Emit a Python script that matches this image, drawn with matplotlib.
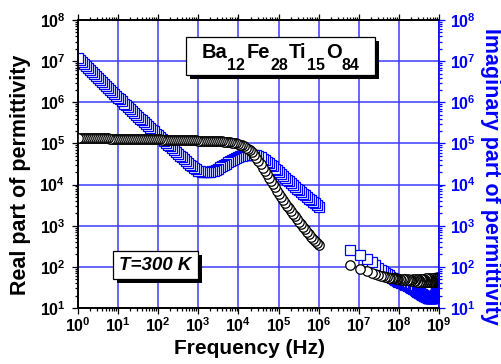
import numpy as np
import matplotlib
matplotlib.use("Agg")
import matplotlib.pyplot as plt
from matplotlib.ticker import LogLocator, FuncFormatter, NullFormatter
from matplotlib.patches import Rectangle
from matplotlib.text import Annotation

plt.rcParams.update({
    "font.family": ["Liberation Sans", "DejaVu Sans"],
    "font.weight": "bold",
    "mathtext.fontset": "custom",
    "mathtext.rm": "Liberation Sans:bold",
    "mathtext.bf": "Liberation Sans:bold",
    "mathtext.it": "Liberation Sans:italic:bold",
    "mathtext.default": "rm",
})

# Impedance-analyser sweep, 1 Hz - 1 MHz (log10 of frequency in Hz)
log_f_low = [0.00, 0.05, 0.10, 0.15, 0.20, 0.25, 0.30, 0.35, 0.40, 0.45,
             0.50, 0.55, 0.60, 0.65, 0.70, 0.75, 0.80, 0.85, 0.90, 0.95,
             1.00, 1.05, 1.10, 1.15, 1.20, 1.25, 1.30, 1.35, 1.40, 1.45,
             1.50, 1.55, 1.60, 1.65, 1.70, 1.75, 1.80, 1.85, 1.90, 1.95,
             2.00, 2.05, 2.10, 2.15, 2.20, 2.25, 2.30, 2.35, 2.40, 2.45,
             2.50, 2.55, 2.60, 2.65, 2.70, 2.75, 2.80, 2.85, 2.90, 2.95,
             3.00, 3.05, 3.10, 3.15, 3.20, 3.25, 3.30, 3.35, 3.40, 3.45,
             3.50, 3.55, 3.60, 3.65, 3.70, 3.75, 3.80, 3.85, 3.90, 3.95,
             4.00, 4.05, 4.10, 4.15, 4.20, 4.25, 4.30, 4.35, 4.40, 4.45,
             4.50, 4.55, 4.60, 4.65, 4.70, 4.75, 4.80, 4.85, 4.90, 4.95,
             5.00, 5.05, 5.10, 5.15, 5.20, 5.25, 5.30, 5.35, 5.40, 5.45,
             5.50, 5.55, 5.60, 5.65, 5.70, 5.75, 5.80, 5.85, 5.90, 5.95,
             6.00]
# log10 of the real part of permittivity
log_real_low = [5.13, 5.13, 5.13, 5.13, 5.13, 5.13, 5.12, 5.12, 5.12, 5.12,
                5.12, 5.12, 5.12, 5.12, 5.12, 5.12, 5.11, 5.11, 5.11, 5.11,
                5.11, 5.11, 5.11, 5.11, 5.11, 5.11, 5.11, 5.11, 5.10, 5.10,
                5.10, 5.10, 5.10, 5.10, 5.10, 5.10, 5.10, 5.10, 5.10, 5.10,
                5.10, 5.10, 5.09, 5.09, 5.09, 5.09, 5.09, 5.09, 5.09, 5.09,
                5.09, 5.08, 5.08, 5.08, 5.08, 5.08, 5.08, 5.08, 5.08, 5.08,
                5.07, 5.07, 5.07, 5.07, 5.07, 5.07, 5.06, 5.06, 5.06, 5.06,
                5.05, 5.05, 5.05, 5.04, 5.04, 5.03, 5.03, 5.02, 5.01, 5.00,
                4.99, 4.97, 4.95, 4.93, 4.90, 4.87, 4.83, 4.78, 4.72, 4.65,
                4.57, 4.49, 4.41, 4.33, 4.25, 4.17, 4.09, 4.01, 3.93, 3.85,
                3.78, 3.70, 3.63, 3.56, 3.49, 3.42, 3.36, 3.29, 3.23, 3.16,
                3.10, 3.03, 2.97, 2.91, 2.85, 2.79, 2.73, 2.67, 2.62, 2.57,
                2.53]
# log10 of the imaginary part of permittivity
log_imag_low = [7.08, 7.03, 6.98, 6.93, 6.88, 6.84, 6.79, 6.74, 6.69, 6.64,
                6.59, 6.55, 6.50, 6.45, 6.40, 6.35, 6.30, 6.26, 6.21, 6.16,
                6.11, 6.07, 6.02, 5.97, 5.93, 5.88, 5.83, 5.79, 5.74, 5.70,
                5.65, 5.60, 5.56, 5.51, 5.47, 5.42, 5.38, 5.33, 5.29, 5.24,
                5.20, 5.15, 5.11, 5.06, 5.02, 4.97, 4.93, 4.88, 4.84, 4.79,
                4.75, 4.70, 4.66, 4.61, 4.57, 4.52, 4.48, 4.44, 4.40, 4.37,
                4.34, 4.32, 4.31, 4.30, 4.30, 4.30, 4.31, 4.32, 4.34, 4.36,
                4.39, 4.42, 4.45, 4.48, 4.51, 4.54, 4.57, 4.60, 4.62, 4.65,
                4.67, 4.69, 4.70, 4.71, 4.72, 4.73, 4.73, 4.73, 4.72, 4.71,
                4.69, 4.66, 4.63, 4.60, 4.56, 4.52, 4.48, 4.44, 4.39, 4.35,
                4.30, 4.26, 4.21, 4.17, 4.12, 4.08, 4.03, 3.99, 3.94, 3.90,
                3.86, 3.82, 3.78, 3.74, 3.70, 3.66, 3.62, 3.58, 3.54, 3.50,
                3.46]

# RF sweep, frequency in MHz
f_high_mhz = [6, 11, 16, 21, 26, 31, 36, 41, 46, 51, 56, 61, 66, 71, 76,
              81, 86, 91, 96,
              106, 116, 126, 136, 146, 156, 166, 176, 186, 196,
              206, 216, 226, 236, 246, 256, 266, 276, 286, 296,
              306, 316, 326, 336, 346, 356, 366, 376, 386, 396,
              406, 416, 426, 436, 446, 456, 466, 476, 486, 496,
              506, 516, 526, 536, 546, 556, 566, 576, 586, 596,
              606, 616, 626, 636, 646, 656, 666, 676, 686, 696,
              706, 716, 726, 736, 746, 756, 766, 776, 786, 796,
              806, 816, 826, 836, 846, 856, 866, 876, 886, 896,
              906, 916, 926, 936, 946, 956, 966, 976, 986, 996]
log_real_high = [2.05, 1.96, 1.90, 1.85, 1.82, 1.80, 1.78, 1.77, 1.76, 1.75,
                 1.74, 1.74, 1.73, 1.73, 1.72, 1.72, 1.71, 1.71, 1.70,
                 1.70, 1.69, 1.71, 1.68, 1.70, 1.67, 1.70, 1.68, 1.69, 1.66,
                 1.69, 1.67, 1.70, 1.65, 1.68, 1.66, 1.70, 1.64, 1.68, 1.67,
                 1.70, 1.64, 1.69, 1.66, 1.71, 1.63, 1.68, 1.66, 1.70, 1.64,
                 1.69, 1.65, 1.71, 1.63, 1.68, 1.66, 1.72, 1.64, 1.69, 1.65,
                 1.71, 1.63, 1.68, 1.66, 1.72, 1.64, 1.70, 1.65, 1.69, 1.63,
                 1.71, 1.65, 1.68, 1.64, 1.72, 1.66, 1.70, 1.63, 1.69, 1.66,
                 1.72, 1.64, 1.70, 1.65, 1.73, 1.66, 1.69, 1.64, 1.72, 1.67,
                 1.70, 1.65, 1.73, 1.66, 1.71, 1.64, 1.74, 1.67, 1.70, 1.66,
                 1.74, 1.67, 1.72, 1.66, 1.75, 1.68, 1.71, 1.67, 1.74, 1.70]
log_imag_high = [2.41, 2.29, 2.19, 2.11, 2.04, 1.98, 1.93, 1.89, 1.85, 1.82,
                 1.79, 1.76, 1.74, 1.72, 1.70, 1.68, 1.67, 1.65, 1.64,
                 1.63, 1.61, 1.60, 1.58, 1.57, 1.55, 1.54, 1.53, 1.51, 1.50,
                 1.49, 1.48, 1.46, 1.45, 1.44, 1.43, 1.42, 1.41, 1.40, 1.39,
                 1.38, 1.37, 1.36, 1.36, 1.35, 1.34, 1.33, 1.33, 1.32, 1.31,
                 1.31, 1.30, 1.30, 1.29, 1.29, 1.28, 1.28, 1.27, 1.27, 1.27,
                 1.26, 1.26, 1.26, 1.25, 1.25, 1.25, 1.25, 1.24, 1.24, 1.24,
                 1.24, 1.24, 1.24, 1.24, 1.24, 1.24, 1.24, 1.24, 1.24, 1.25,
                 1.25, 1.25, 1.25, 1.26, 1.26, 1.26, 1.27, 1.27, 1.28, 1.29,
                 1.30, 1.31, 1.33, 1.35, 1.37, 1.40, 1.43, 1.46, 1.50, 1.54,
                 1.57, 1.60, 1.63, 1.65, 1.67, 1.69, 1.71, 1.72, 1.73, 1.74]

x_tick_exps = list(range(0, 10))
y_tick_exps = list(range(1, 9))

formula_parts = [("Ba", "12"), ("Fe", "28"), ("Ti", "15"), ("O", "84")]
temperature_label = "T=300 K"

BLUE = "#0000ff"
GRID = "#3c3cff"

W, H = 502, 364
fig = plt.figure(figsize=(W / 100, H / 100), dpi=100)


def fx(px):
    return px / W


def fy(py):
    return 1 - py / H


x0, x1, y0, y1 = 78, 439, 20, 308
ax = fig.add_axes([fx(x0), fy(y1), (x1 - x0) / W, (y1 - y0) / H])
ax2 = ax.twinx()

# both sweeps combined, drawn from high frequency down to low frequency
f_low = 10.0 ** np.array(log_f_low)
f_high = np.array(f_high_mhz) * 1e6
freq = np.concatenate([f_low, f_high])[::-1]
real = (10.0 ** np.concatenate([log_real_low, log_real_high]))[::-1]
imag = (10.0 ** np.concatenate([log_imag_low, log_imag_high]))[::-1]

ax.plot(freq, imag, ls="none", marker="s", ms=7.2, mfc="white", mec=BLUE,
        mew=0.9)
ax2.plot(freq, real, ls="none", marker="o", ms=6.8, mfc="white", mec="black",
         mew=0.9)

fmt = FuncFormatter(lambda v, p: r"$10^{%d}$" % int(round(np.log10(v))))
for a in (ax, ax2):
    a.set_xscale("log")
    a.set_yscale("log")
    a.set_xlim(10.0 ** x_tick_exps[0], 10.0 ** x_tick_exps[-1])
    a.set_ylim(10.0 ** y_tick_exps[0], 10.0 ** y_tick_exps[-1])
    a.yaxis.set_major_locator(LogLocator(base=10, numticks=20))
    a.yaxis.set_minor_locator(LogLocator(base=10, subs=np.arange(2, 10), numticks=100))
    a.yaxis.set_major_formatter(fmt)
    a.yaxis.set_minor_formatter(NullFormatter())

ax.xaxis.set_major_locator(LogLocator(base=10, numticks=20))
ax.xaxis.set_minor_locator(LogLocator(base=10, subs=np.arange(2, 10), numticks=100))
ax.xaxis.set_major_formatter(fmt)
ax.xaxis.set_minor_formatter(NullFormatter())

ax.set_axisbelow(True)
ax.grid(which="major", color=GRID, lw=1.1)

ax.tick_params(which="both", direction="out", top=True, right=False,
               labelsize=11.5, width=0.9, colors="black")
ax.tick_params(axis="y", pad=5)
ax.tick_params(axis="x", pad=2)
ax.tick_params(which="major", length=4)
ax.tick_params(which="minor", length=2.2)
ax2.tick_params(which="both", direction="out", right=True, left=False,
                top=False, bottom=False, labelbottom=False,
                labelsize=11.5, width=0.9, colors=BLUE, pad=4)
ax2.tick_params(which="major", length=4)
ax2.tick_params(which="minor", length=2.2)

for s in ("left", "bottom", "top"):
    ax.spines[s].set_linewidth(1.2)
    ax2.spines[s].set_linewidth(1.2)
ax2.spines["right"].set_color(BLUE)
ax2.spines["right"].set_linewidth(1.2)
ax.spines["right"].set_visible(False)

# axis titles
fig.text(fx(250), fy(348), "Frequency (Hz)", ha="center", va="center",
         fontsize=15, fontweight="bold")
fig.text(fx(21), fy(175), "Real part of permittivity", ha="center",
         va="center", rotation=90, fontsize=15.5, fontweight="bold")
fig.text(fx(491), fy(176), "Imaginary part of permittivity", ha="center",
         va="center", rotation=270, fontsize=15.5, fontweight="bold",
         color=BLUE)


def shadow_box(left, top, right, bottom, off=4):
    fig.add_artist(Rectangle((fx(left + off), fy(bottom + off)),
                             (right - left) / W, (bottom - top) / H,
                             transform=fig.transFigure, facecolor="black",
                             edgecolor="black", lw=0, zorder=5))
    fig.add_artist(Rectangle((fx(left), fy(bottom)),
                             (right - left) / W, (bottom - top) / H,
                             transform=fig.transFigure, facecolor="white",
                             edgecolor="black", lw=0.9, zorder=6))


# chemical formula built piece by piece so subscripts can be sized freely
shadow_box(186, 37, 375, 75)
MAIN_FS, SUB_FS = 14.5, 11.5
first = fig.text(fx(193), fy(58.5), formula_parts[0][0], ha="left",
                 va="baseline", fontsize=MAIN_FS, fontweight="bold", zorder=7)
prev = first
pieces = [first]
for i, (elem, sub) in enumerate(formula_parts):
    if i > 0:
        t = Annotation(elem, xy=(1, 0), xycoords=(prev, first),
                       xytext=(0.6, 0), textcoords="offset points",
                       ha="left", va="bottom", fontsize=MAIN_FS,
                       fontweight="bold", zorder=7, annotation_clip=False)
        fig.add_artist(t)
        prev = t
        pieces.append(t)
    s = Annotation(sub, xy=(1, 0), xycoords=(prev, first),
                   xytext=(0.4, -5.3), textcoords="offset points",
                   ha="left", va="baseline", fontsize=SUB_FS,
                   fontweight="bold", zorder=7, annotation_clip=False)
    fig.add_artist(s)
    prev = s
    pieces.append(s)

fig.canvas.draw()
r = fig.canvas.get_renderer()
bb0 = pieces[0].get_window_extent(r)
bb1 = pieces[-1].get_window_extent(r)
width_px = bb1.x1 - bb0.x0
center_px = (186 + 375) / 2
first.set_x(fx(center_px - width_px / 2))

shadow_box(113, 251, 198, 279)
fig.text(fx(155.5), fy(265), temperature_label, ha="center", va="center",
         fontsize=13.5, fontweight="bold", fontstyle="italic", zorder=7)

fig.savefig("out.png", dpi=100)
